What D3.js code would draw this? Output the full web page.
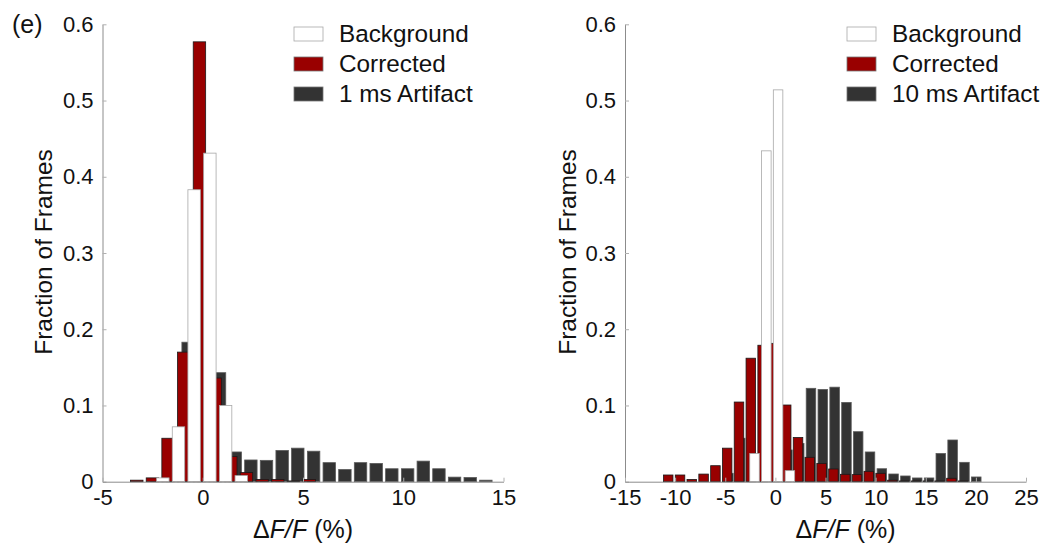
<!DOCTYPE html>
<html>
<head>
<meta charset="utf-8">
<script src="https://cdn.jsdelivr.net/npm/d3@7"></script>
<style>
    body { margin: 0; background: #fff; }
    svg { font-family: "Liberation Sans", Arial, sans-serif; }
</style>
</head>
<body>
<svg width="1047" height="546"></svg>
<script>
// ---- 1 ms panel (left) ----
// bin centers (ΔF/F %) and fraction of frames per series
const bg1X = [-1.99, -1.21, -0.43, 0.355, 1.14, 1.92];
const bg1Y = [0.005, 0.072, 0.383, 0.431, 0.100, 0.008];

const corr1X = [-3.29, -2.51, -1.73, -0.95, -0.165, 0.617, 1.40, 2.18, 2.96, 3.74, 4.52, 5.31];
const corr1Y = [0.002, 0.005, 0.057, 0.170, 0.577, 0.136, 0.033, 0.012, 0.003, 0.003, 0.001, 0.003];

const art1X = [-2.29, -1.51, -0.73, 0.055, 0.837, 1.62, 2.40, 3.18, 3.96, 4.74, 5.53, 6.31, 7.09,
    7.87, 8.65, 9.43, 10.22, 11.0, 11.78, 12.56, 13.34, 14.12];
const art1Y = [0.004, 0.040, 0.183, 0.220, 0.143, 0.039, 0.0285, 0.028, 0.041, 0.044, 0.040, 0.025, 0.016,
    0.025, 0.024, 0.017, 0.017, 0.027, 0.017, 0.006, 0.0055, 0.002];

// ---- 10 ms panel (right) ----
const bg10X = [-2.08, -0.90, 0.27, 1.45];
const bg10Y = [0.037, 0.434, 0.514, 0.0145];

const corr10X = [-10.69, -9.51, -8.34, -7.16, -5.98, -4.81, -3.63, -2.45, -1.27, -0.10, 1.08, 2.26, 3.43,
    4.61, 5.79, 6.97, 8.14, 9.32, 10.50, 11.67, 12.85, 14.03, 15.21, 16.38, 17.56, 18.74];
const corr10Y = [0.0088, 0.0088, 0.003, 0.010, 0.021, 0.044, 0.1045, 0.162, 0.179, 0.1815, 0.1006, 0.058, 0.032,
    0.024, 0.0167, 0.0097, 0.0093, 0.0136, 0.011, 0.002, 0.001, 0.001, 0.001, 0.001, 0.0045, 0.001];

const art10X = [-4.69, -3.51, -2.33, -1.15, 0.02, 1.20, 2.38, 3.55, 4.73, 5.91, 7.09, 8.26, 9.44,
    10.62, 11.79, 12.97, 14.15, 15.33, 16.50, 17.68, 18.86, 20.04];
const art10Y = [0.011, 0.057, 0.025, 0.030, 0.035, 0.0416, 0.050, 0.1225, 0.121, 0.124, 0.104, 0.0656, 0.039,
    0.017, 0.0101, 0.0075, 0.0049, 0.0049, 0.037, 0.0547, 0.0254, 0.0062];

// ticks and labels
const yTicks = [0, 0.1, 0.2, 0.3, 0.4, 0.5, 0.6];
const xTicks1 = [-5, 0, 5, 10, 15];
const xTicks10 = [-15, -10, -5, 0, 5, 10, 15, 20, 25];
const legend1 = ["Background", "Corrected", "1 ms Artifact"];
const legend10 = ["Background", "Corrected", "10 ms Artifact"];

let svg = d3.select("svg");

let fills = {bg: "#ffffff", corr: "#990000", art: "#333333"};
let edges = {bg: "#a8a8a8", corr: "#1a1a1a", art: "#5a5a5a"};

/**
 * 画一个直方图面板
 */
function drawPanel(p) {
    let x = d3.scaleLinear().domain(p.xDomain).range([p.left, p.right]);
    let y = d3.scaleLinear().domain([0, 0.6]).range([481.7, 24.3]);
    let g = svg.append("g");

    // artifact behind, corrected over it, background on top
    let series = [
        ["art", p.artX, p.artY],
        ["corr", p.corrX, p.corrY],
        ["bg", p.bgX, p.bgY]
    ];
    series.forEach(([key, xs, ys]) => {
        g.append("g")
            .selectAll("rect")
            .data(d3.zip(xs, ys))
            .join("rect")
            .attr("x", d => x(d[0] - p.barW / 2))
            .attr("width", x(p.barW) - x(0))
            .attr("y", d => y(d[1]))
            .attr("height", d => y(0) - y(d[1]))
            .attr("fill", fills[key])
            .attr("stroke", edges[key])
            .attr("stroke-width", 0.8);
    });

    // 坐标轴
    let yAxis = d3.axisLeft(y)
        .tickValues(yTicks)
        .tickFormat(d => d === 0 ? "0" : d3.format(".1f")(d))
        .tickSizeInner(-4)
        .tickSizeOuter(0)
        .tickPadding(9);
    let xAxis = d3.axisBottom(x)
        .tickValues(p.xTicks)
        .tickFormat(d => String(d))
        .tickSizeInner(-4)
        .tickSizeOuter(0)
        .tickPadding(8);

    let ya = g.append("g").attr("transform", `translate(${p.left},0)`).call(yAxis);
    let xa = g.append("g").attr("transform", `translate(0,${y(0)})`).call(xAxis);
    [ya, xa].forEach(a => {
        a.select(".domain").attr("stroke", "#8c8c8c").attr("stroke-width", 1);
        a.selectAll(".tick line").attr("stroke", "#b0b0b0");
        a.selectAll(".tick text").attr("fill", "#111").style("font-size", "22px");
    });

    // axis titles
    g.append("text")
        .attr("transform", `translate(${p.yLabelX},252) rotate(-90)`)
        .attr("text-anchor", "middle")
        .style("font-size", "24.5px")
        .attr("fill", "#111")
        .text("Fraction of Frames");

    let xt = g.append("text")
        .attr("x", x(p.xLabelAt))
        .attr("y", 538)
        .attr("text-anchor", "middle")
        .style("font-size", "25px")
        .attr("fill", "#111");
    xt.append("tspan").text("Δ");
    xt.append("tspan").style("font-style", "italic").text("F/F");
    xt.append("tspan").text(" (%)");

    // legend
    let keys = ["bg", "corr", "art"];
    let lg = g.append("g").attr("transform", `translate(${p.legendX},27)`);
    p.legend.forEach((name, i) => {
        lg.append("rect")
            .attr("x", 0)
            .attr("y", i * 30)
            .attr("width", 29)
            .attr("height", 14)
            .attr("fill", fills[keys[i]])
            .attr("stroke", keys[i] === "bg" ? "#a8a8a8" : "#777")
            .attr("stroke-width", 0.8);
        lg.append("text")
            .attr("x", 45)
            .attr("y", i * 30 + 15)
            .style("font-size", "24.3px")
            .attr("fill", "#111")
            .text(name);
    });
}

drawPanel({
    xDomain: [-5, 15], left: 102.5, right: 503.5, xTicks: xTicks1, barW: 0.62,
    bgX: bg1X, bgY: bg1Y, corrX: corr1X, corrY: corr1Y, artX: art1X, artY: art1Y,
    yLabelX: 52, xLabelAt: 5, legendX: 294, legend: legend1
});

drawPanel({
    xDomain: [-15, 25], left: 625, right: 1026, xTicks: xTicks10, barW: 0.95,
    bgX: bg10X, bgY: bg10Y, corrX: corr10X, corrY: corr10Y, artX: art10X, artY: art10Y,
    yLabelX: 576, xLabelAt: 7, legendX: 847, legend: legend10
});

// panel tag
svg.append("text")
    .attr("x", 12)
    .attr("y", 33)
    .style("font-size", "25px")
    .attr("fill", "#111")
    .text("(e)");
</script>
</body>
</html>
